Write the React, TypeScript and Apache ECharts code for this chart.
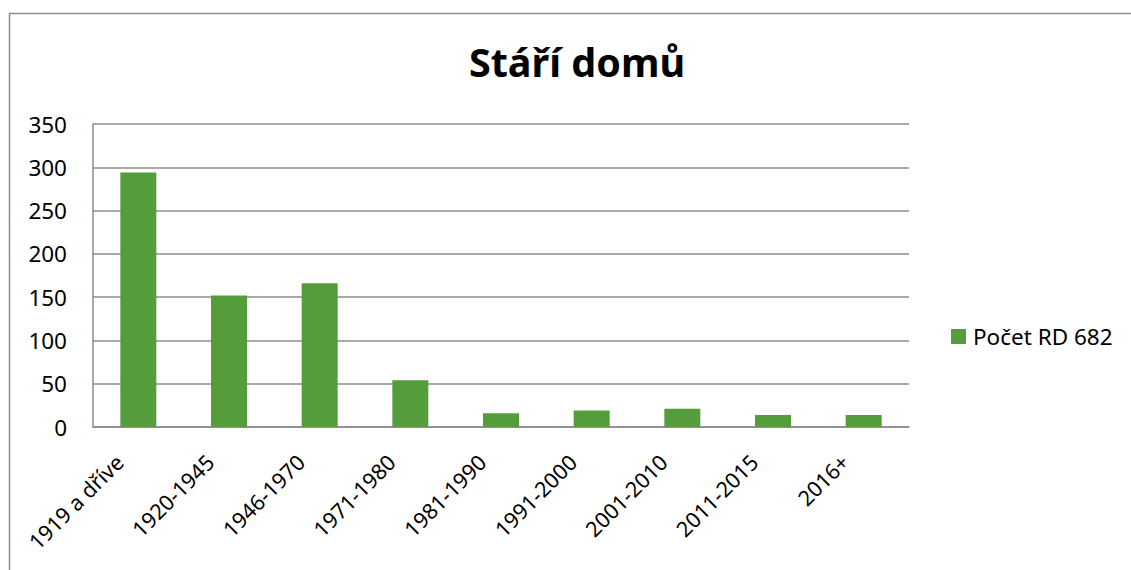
import React, { useEffect, useRef } from "react";
import * as echarts from "echarts";

const categories = [
  "1919 a dříve",
  "1920-1945",
  "1946-1970",
  "1971-1980",
  "1981-1990",
  "1991-2000",
  "2001-2010",
  "2011-2015",
  "2016+",
];
const seriesName = "Počet RD 682";
const values = [294, 152, 166, 54, 16, 19, 21, 14, 14];
const titleText = "Stáří domů";

const FONT = "'Noto Sans', 'DejaVu Sans', sans-serif";
const GRID_COLOR = "#8c8c8c";
const BAR_COLOR = "#559d3a";

export default function App() {
  const ref = useRef<HTMLDivElement>(null);
  useEffect(() => {
    if (!ref.current) return;
    const chart = echarts.init(ref.current, null, { renderer: "svg" });
    chart.setOption({
      animation: false,
      backgroundColor: "#ffffff",
      textStyle: { fontFamily: FONT },
      graphic: [
        {
          type: "rect",
          shape: { x: 9.5, y: 13.5, width: 1200, height: 700 },
          style: { fill: "none", stroke: GRID_COLOR, lineWidth: 1.5 },
          silent: true,
          z: -10,
        },
      ],
      title: {
        text: titleText,
        left: 572,
        top: 37,
        textAlign: "center",
        textStyle: {
          fontFamily: FONT,
          fontWeight: "bold",
          fontSize: 39.5,
          color: "#000000",
        },
      },
      legend: {
        left: 951,
        top: 325,
        padding: 0,
        itemWidth: 15,
        itemHeight: 15,
        icon: "rect",
        textStyle: { fontFamily: FONT, fontSize: 22.5, color: "#000000", padding: [0, 0, 0, 2] },
        data: [seriesName],
      },
      grid: {
        left: 93,
        right: 222,
        top: 124,
        bottom: 143,
        outerBoundsMode: "none",
        containLabel: false,
      },
      xAxis: {
        type: "category",
        data: categories,
        axisLine: { show: true, lineStyle: { color: GRID_COLOR, width: 1.5 } },
        axisTick: { show: false },
        axisLabel: {
          rotate: 45,
          interval: 0,
          margin: 12,
          padding: [0, 27, 0, 0],
          fontFamily: FONT,
          fontSize: 21.5,
          color: "#000000",
        },
      },
      yAxis: {
        type: "value",
        min: 0,
        max: 350,
        interval: 50,
        axisLine: { show: true, lineStyle: { color: GRID_COLOR, width: 1.5 } },
        axisTick: { show: false },
        splitLine: { show: true, lineStyle: { color: GRID_COLOR, width: 1.5 } },
        axisLabel: {
          margin: 26,
          fontFamily: FONT,
          fontSize: 22.5,
          color: "#000000",
        },
      },
      series: [
        {
          name: seriesName,
          type: "bar",
          data: values,
          barWidth: 36,
          itemStyle: { color: BAR_COLOR },
        },
      ],
    });
    return () => chart.dispose();
  }, []);
  return (
    <div
      ref={ref}
      style={{ position: "absolute", left: 0, top: 0, width: 1131, height: 570 }}
    />
  );
}
